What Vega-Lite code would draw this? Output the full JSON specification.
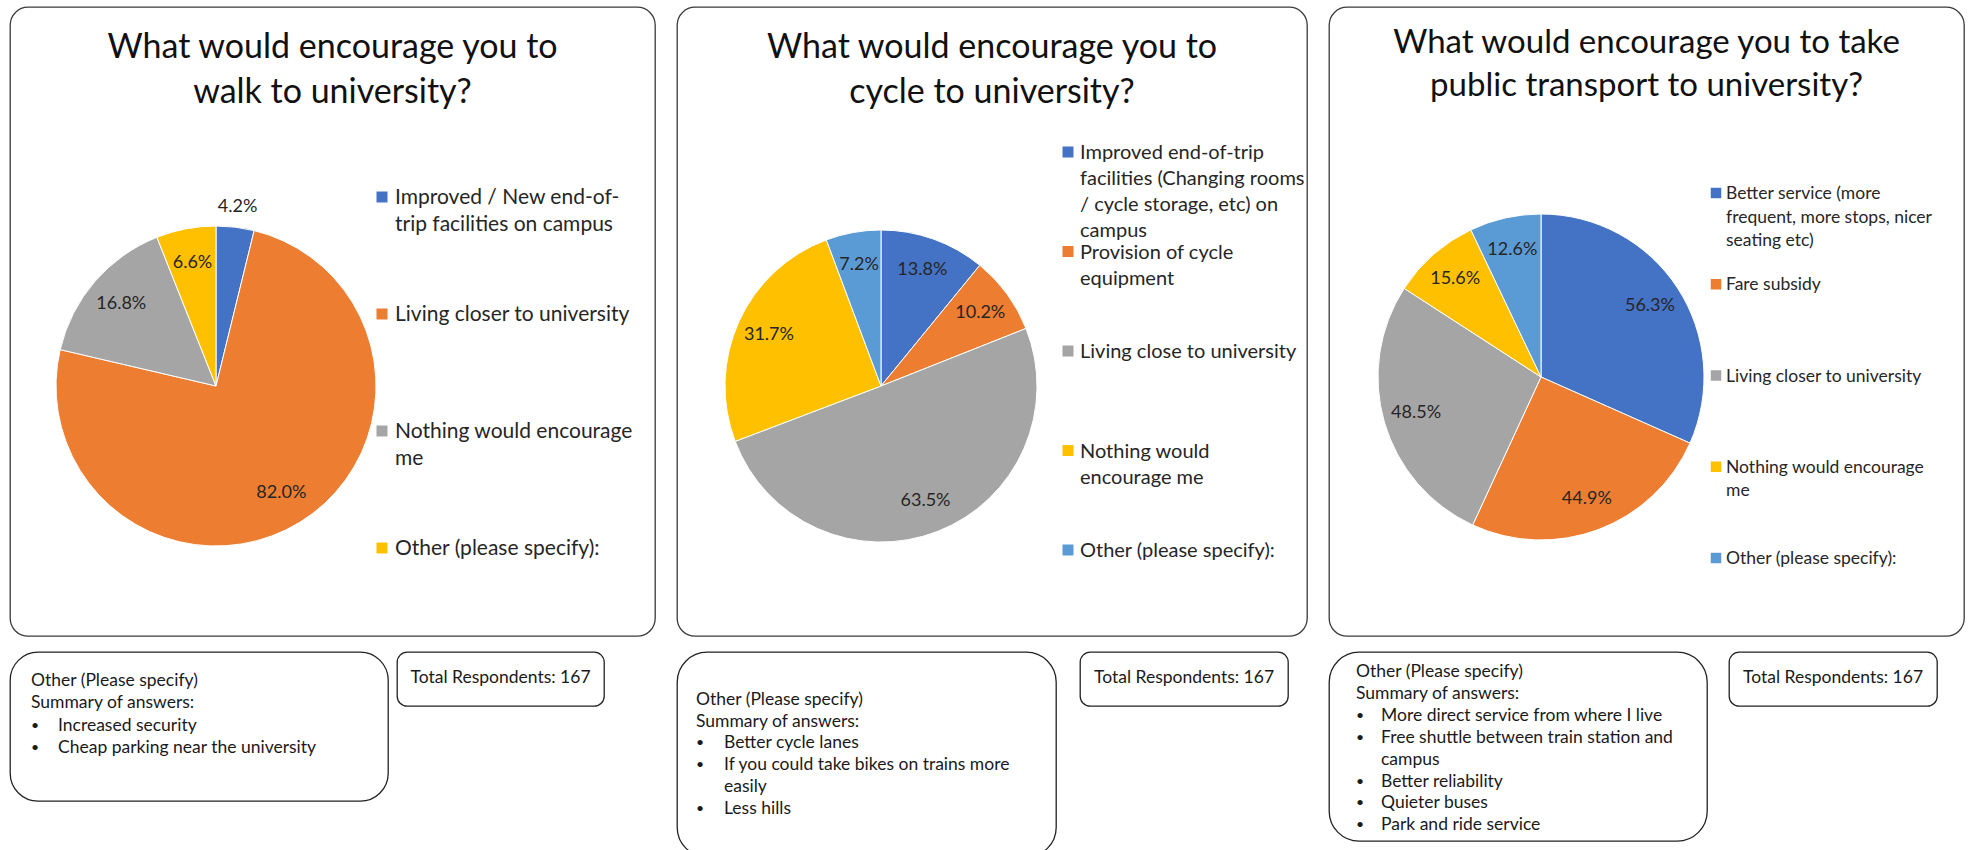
{
  "$schema": "https://vega.github.io/schema/vega-lite/v6.json",
  "padding": {"left": 9, "top": 6, "right": 0, "bottom": 0},
  "background": "white",
  "config": {"font": "Lato", "view": {"stroke": "#3a3a3a"}},
  "datasets": {
    "walk": [
      {"category": "Improved / New end-of-\ntrip facilities on campus", "idx": 1, "share": 0.042},
      {"category": "Living closer to university", "idx": 2, "share": 0.82},
      {"category": "Nothing would encourage\nme", "idx": 3, "share": 0.168},
      {"category": "Other (please specify):", "idx": 4, "share": 0.066}
    ],
    "cycle": [
      {"category": "Improved end-of-trip\nfacilities (Changing rooms\n/ cycle storage, etc) on\ncampus", "idx": 1, "share": 0.138},
      {"category": "Provision of cycle\nequipment", "idx": 2, "share": 0.102},
      {"category": "Living close to university", "idx": 3, "share": 0.635},
      {"category": "Nothing would\nencourage me", "idx": 4, "share": 0.317},
      {"category": "Other (please specify):", "idx": 5, "share": 0.072}
    ],
    "pt": [
      {"category": "Better service (more\nfrequent, more stops, nicer\nseating etc)", "idx": 1, "share": 0.563},
      {"category": "Fare subsidy", "idx": 2, "share": 0.449},
      {"category": "Living closer to university", "idx": 3, "share": 0.485},
      {"category": "Nothing would encourage\nme", "idx": 4, "share": 0.156},
      {"category": "Other (please specify):", "idx": 5, "share": 0.126}
    ],
    "walkOther": [
      {"line": 0, "indent": 0, "bullet": "", "text": "Other (Please specify)"},
      {"line": 1, "indent": 0, "bullet": "", "text": "Summary of answers:"},
      {"line": 2, "indent": 1, "bullet": "•", "text": "Increased security"},
      {"line": 3, "indent": 1, "bullet": "•", "text": "Cheap parking near the university"}
    ],
    "cycleOther": [
      {"line": 0, "indent": 0, "bullet": "", "text": "Other (Please specify)"},
      {"line": 1, "indent": 0, "bullet": "", "text": "Summary of answers:"},
      {"line": 2, "indent": 1, "bullet": "•", "text": "Better cycle lanes"},
      {"line": 3, "indent": 1, "bullet": "•", "text": "If  you could take bikes on trains more"},
      {"line": 4, "indent": 1, "bullet": "", "text": "easily"},
      {"line": 5, "indent": 1, "bullet": "•", "text": "Less hills"}
    ],
    "ptOther": [
      {"line": 0, "indent": 0, "bullet": "", "text": "Other (Please specify)"},
      {"line": 1, "indent": 0, "bullet": "", "text": "Summary of answers:"},
      {"line": 2, "indent": 1, "bullet": "•", "text": "More direct service from where I live"},
      {"line": 3, "indent": 1, "bullet": "•", "text": "Free shuttle between train station and"},
      {"line": 4, "indent": 1, "bullet": "", "text": "campus"},
      {"line": 5, "indent": 1, "bullet": "•", "text": "Better reliability"},
      {"line": 6, "indent": 1, "bullet": "•", "text": "Quieter buses"},
      {"line": 7, "indent": 1, "bullet": "•", "text": "Park and ride service"}
    ],
    "total": [{"text": "Total Respondents: 167"}]
  },
  "spacing": 20,
  "resolve": {"scale": {"color": "independent", "x": "independent", "y": "independent"}},
  "hconcat": [
    {
      "spacing": 14,
      "resolve": {"scale": {"color": "independent", "x": "independent", "y": "independent"}},
      "vconcat": [
        {
          "width": 645, "height": 629,
          "view": {"stroke": "#3a3a3a", "strokeWidth": 1.3, "cornerRadius": 18, "fill": "white"},
          "title": {"text": ["What would encourage you to", "walk to university?"], "fontSize": 34, "fontWeight": "normal", "color": "#111111", "anchor": "middle", "frame": "group", "baseline": "top", "lineHeight": 45, "offset": -103},
          "data": {"name": "walk"},
          "encoding": {"color": {"field": "category", "type": "nominal", "sort": {"field": "idx"}, "scale": {"range": ["#4472C4", "#ED7D31", "#A5A5A5", "#FFC000"]}, "legend": null}},
          "layer": [
            {"mark": {"type": "arc", "outerRadius": 160, "x": 206, "y": 379, "stroke": "#ffffff", "strokeWidth": 1},
             "encoding": {"theta": {"field": "share", "type": "quantitative", "stack": true}, "order": {"field": "idx", "type": "quantitative"}}},
            {"mark": {"type": "text", "radius": 125, "x": 206, "y": 379, "fontSize": 18},
             "encoding": {"theta": {"field": "share", "type": "quantitative", "stack": true}, "order": {"field": "idx", "type": "quantitative"}, "detail": {"field": "category"}, "color": {"value": "#262626"},
               "text": {"condition": {"test": "datum.share >= 0.05", "field": "share", "type": "quantitative", "format": ".1%"}, "value": ""}}},
            {"mark": {"type": "text", "radius": 180, "x": 206, "y": 379, "fontSize": 18},
             "encoding": {"theta": {"field": "share", "type": "quantitative", "stack": true}, "order": {"field": "idx", "type": "quantitative"}, "detail": {"field": "category"}, "color": {"value": "#262626"},
               "text": {"condition": {"test": "datum.share < 0.05", "field": "share", "type": "quantitative", "format": ".1%"}, "value": ""}}},
            {"mark": {"type": "square", "size": 121, "x": 372, "opacity": 1},
             "encoding": {"y": {"field": "category", "type": "nominal", "sort": {"field": "idx"}, "scale": {"type": "point", "range": [190, 541], "padding": 0}, "axis": null}}},
            {"mark": {"type": "text", "x": 385, "align": "left", "baseline": "alphabetic", "dy": 7, "lineBreak": "\n", "lineHeight": 27, "fontSize": 21},
             "encoding": {"y": {"field": "category", "type": "nominal", "sort": {"field": "idx"}, "scale": {"type": "point", "range": [190, 541], "padding": 0}, "axis": null}, "text": {"field": "category", "type": "nominal"}, "color": {"value": "#262626"}}}
          ]
        },
        {
          "spacing": 7,
          "resolve": {"scale": {"x": "independent", "y": "independent"}},
          "hconcat": [
            {
              "width": 378, "height": 149,
              "view": {"stroke": "#222222", "strokeWidth": 1.3, "cornerRadius": 28, "fill": "white"},
              "data": {"name": "walkOther"},
              "encoding": {"y": {"field": "line", "type": "quantitative", "scale": {"domain": [0, 1], "range": [29, 51.3], "zero": false, "nice": false}, "axis": null}},
              "layer": [
                {"mark": {"type": "text", "align": "left", "baseline": "middle", "fontSize": 17.5, "color": "#1a1a1a"},
                 "encoding": {"x": {"field": "indent", "type": "quantitative", "scale": {"domain": [0, 1], "range": [21, 48], "zero": false, "nice": false}, "axis": null}, "text": {"field": "text", "type": "nominal"}}},
                {"mark": {"type": "text", "align": "left", "baseline": "middle", "fontSize": 14, "color": "#1a1a1a"},
                 "encoding": {"x": {"datum": 0, "type": "quantitative"}, "text": {"field": "bullet", "type": "nominal"}}}
              ]
            },
            {
              "width": 207, "height": 54,
              "view": {"stroke": "#222222", "strokeWidth": 1.3, "cornerRadius": 10, "fill": "white"},
              "data": {"name": "total"},
              "mark": {"type": "text", "baseline": "middle", "align": "center", "fontSize": 17.5, "dy": -1, "color": "#1a1a1a"},
              "encoding": {"text": {"field": "text", "type": "nominal"}}
            }
          ]
        }
      ]
    },
    {
      "spacing": 14,
      "resolve": {"scale": {"color": "independent", "x": "independent", "y": "independent"}},
      "vconcat": [
        {
          "width": 630, "height": 629,
          "view": {"stroke": "#3a3a3a", "strokeWidth": 1.3, "cornerRadius": 18, "fill": "white"},
          "title": {"text": ["What would encourage you to", "cycle to university?"], "fontSize": 34, "fontWeight": "normal", "color": "#111111", "anchor": "middle", "frame": "group", "baseline": "top", "lineHeight": 45, "offset": -103},
          "data": {"name": "cycle"},
          "encoding": {"color": {"field": "category", "type": "nominal", "sort": {"field": "idx"}, "scale": {"range": ["#4472C4", "#ED7D31", "#A5A5A5", "#FFC000", "#5B9BD5"]}, "legend": null}},
          "layer": [
            {"mark": {"type": "arc", "outerRadius": 156, "x": 204, "y": 379, "stroke": "#ffffff", "strokeWidth": 1},
             "encoding": {"theta": {"field": "share", "type": "quantitative", "stack": true}, "order": {"field": "idx", "type": "quantitative"}}},
            {"mark": {"type": "text", "radius": 123, "x": 204, "y": 379, "fontSize": 18},
             "encoding": {"theta": {"field": "share", "type": "quantitative", "stack": true}, "order": {"field": "idx", "type": "quantitative"}, "detail": {"field": "category"}, "color": {"value": "#262626"},
               "text": {"field": "share", "type": "quantitative", "format": ".1%"}}},
            {"mark": {"type": "square", "size": 121, "x": 391, "opacity": 1},
             "encoding": {"y": {"field": "category", "type": "nominal", "sort": {"field": "idx"}, "scale": {"type": "point", "range": [145, 543], "padding": 0}, "axis": null}}},
            {"mark": {"type": "text", "x": 403, "align": "left", "baseline": "alphabetic", "dy": 7, "lineBreak": "\n", "lineHeight": 26, "fontSize": 20},
             "encoding": {"y": {"field": "category", "type": "nominal", "sort": {"field": "idx"}, "scale": {"type": "point", "range": [145, 543], "padding": 0}, "axis": null}, "text": {"field": "category", "type": "nominal"}, "color": {"value": "#262626"}}}
          ]
        },
        {
          "spacing": 22,
          "resolve": {"scale": {"x": "independent", "y": "independent"}},
          "hconcat": [
            {
              "width": 379, "height": 205,
              "view": {"stroke": "#222222", "strokeWidth": 1.3, "cornerRadius": 30, "fill": "white"},
              "data": {"name": "cycleOther"},
              "encoding": {"y": {"field": "line", "type": "quantitative", "scale": {"domain": [0, 1], "range": [48, 69.7], "zero": false, "nice": false}, "axis": null}},
              "layer": [
                {"mark": {"type": "text", "align": "left", "baseline": "middle", "fontSize": 17.5, "color": "#1a1a1a"},
                 "encoding": {"x": {"field": "indent", "type": "quantitative", "scale": {"domain": [0, 1], "range": [19, 47], "zero": false, "nice": false}, "axis": null}, "text": {"field": "text", "type": "nominal"}}},
                {"mark": {"type": "text", "align": "left", "baseline": "middle", "fontSize": 14, "color": "#1a1a1a"},
                 "encoding": {"x": {"datum": 0, "type": "quantitative"}, "text": {"field": "bullet", "type": "nominal"}}}
              ]
            },
            {
              "width": 208, "height": 54,
              "view": {"stroke": "#222222", "strokeWidth": 1.3, "cornerRadius": 10, "fill": "white"},
              "data": {"name": "total"},
              "mark": {"type": "text", "baseline": "middle", "align": "center", "fontSize": 17.5, "dy": -1, "color": "#1a1a1a"},
              "encoding": {"text": {"field": "text", "type": "nominal"}}
            }
          ]
        }
      ]
    },
    {
      "spacing": 14,
      "resolve": {"scale": {"color": "independent", "x": "independent", "y": "independent"}},
      "vconcat": [
        {
          "width": 635, "height": 629,
          "view": {"stroke": "#3a3a3a", "strokeWidth": 1.3, "cornerRadius": 18, "fill": "white"},
          "title": {"text": ["What would encourage you to take", "public transport to university?"], "fontSize": 33, "fontWeight": "normal", "color": "#111111", "anchor": "middle", "frame": "group", "baseline": "top", "lineHeight": 43, "offset": -96},
          "data": {"name": "pt"},
          "encoding": {"color": {"field": "category", "type": "nominal", "sort": {"field": "idx"}, "scale": {"range": ["#4472C4", "#ED7D31", "#A5A5A5", "#FFC000", "#5B9BD5"]}, "legend": null}},
          "layer": [
            {"mark": {"type": "arc", "outerRadius": 163, "x": 212, "y": 370, "stroke": "#ffffff", "strokeWidth": 1},
             "encoding": {"theta": {"field": "share", "type": "quantitative", "stack": true}, "order": {"field": "idx", "type": "quantitative"}}},
            {"mark": {"type": "text", "radius": 130, "x": 212, "y": 370, "fontSize": 18},
             "encoding": {"theta": {"field": "share", "type": "quantitative", "stack": true}, "order": {"field": "idx", "type": "quantitative"}, "detail": {"field": "category"}, "color": {"value": "#262626"},
               "text": {"field": "share", "type": "quantitative", "format": ".1%"}}},
            {"mark": {"type": "square", "size": 110, "x": 387, "opacity": 1},
             "encoding": {"y": {"field": "category", "type": "nominal", "sort": {"field": "idx"}, "scale": {"type": "point", "range": [186, 551], "padding": 0}, "axis": null}}},
            {"mark": {"type": "text", "x": 397, "align": "left", "baseline": "alphabetic", "dy": 6, "lineBreak": "\n", "lineHeight": 23.5, "fontSize": 17.5},
             "encoding": {"y": {"field": "category", "type": "nominal", "sort": {"field": "idx"}, "scale": {"type": "point", "range": [186, 551], "padding": 0}, "axis": null}, "text": {"field": "category", "type": "nominal"}, "color": {"value": "#262626"}}}
          ]
        },
        {
          "spacing": 20,
          "resolve": {"scale": {"x": "independent", "y": "independent"}},
          "hconcat": [
            {
              "width": 378, "height": 189,
              "view": {"stroke": "#222222", "strokeWidth": 1.3, "cornerRadius": 30, "fill": "white"},
              "data": {"name": "ptOther"},
              "encoding": {"y": {"field": "line", "type": "quantitative", "scale": {"domain": [0, 1], "range": [20, 41.9], "zero": false, "nice": false}, "axis": null}},
              "layer": [
                {"mark": {"type": "text", "align": "left", "baseline": "middle", "fontSize": 17.5, "color": "#1a1a1a"},
                 "encoding": {"x": {"field": "indent", "type": "quantitative", "scale": {"domain": [0, 1], "range": [27, 52], "zero": false, "nice": false}, "axis": null}, "text": {"field": "text", "type": "nominal"}}},
                {"mark": {"type": "text", "align": "left", "baseline": "middle", "fontSize": 14, "color": "#1a1a1a"},
                 "encoding": {"x": {"datum": 0, "type": "quantitative"}, "text": {"field": "bullet", "type": "nominal"}}}
              ]
            },
            {
              "width": 208, "height": 54,
              "view": {"stroke": "#222222", "strokeWidth": 1.3, "cornerRadius": 10, "fill": "white"},
              "data": {"name": "total"},
              "mark": {"type": "text", "baseline": "middle", "align": "center", "fontSize": 17.5, "dy": -1, "color": "#1a1a1a"},
              "encoding": {"text": {"field": "text", "type": "nominal"}}
            }
          ]
        }
      ]
    }
  ]
}
